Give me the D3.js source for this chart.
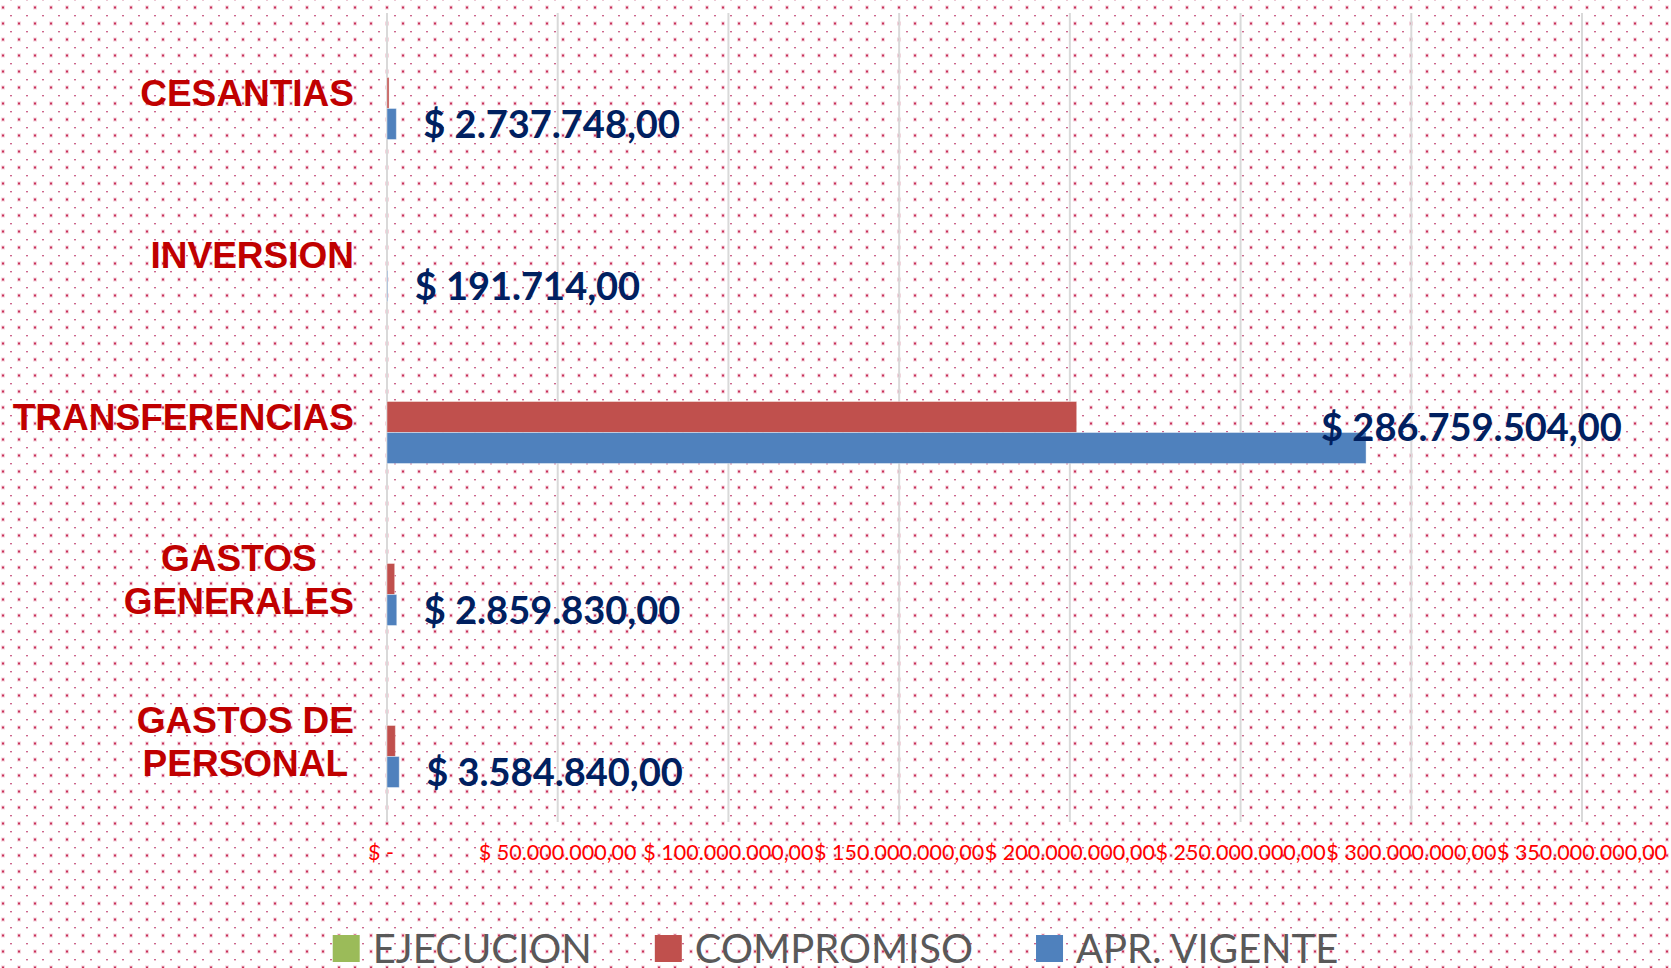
<!DOCTYPE html>
<html>
<head>
    <meta charset="utf-8">
    <title>Ejecucion presupuestal</title>
    <script src="https://cdn.jsdelivr.net/npm/d3@7"></script>
    <style>
        body { margin: 0; background: #fff; }
    </style>
</head>

<body>
    <svg width="1671" height="968" id="mainsvg"></svg>
    <script>
        // datos
        const categories = ['CESANTIAS', 'INVERSION', 'TRANSFERENCIAS', 'GASTOS GENERALES', 'GASTOS DE PERSONAL'];
        const categoryLines = [['CESANTIAS'], ['INVERSION'], ['TRANSFERENCIAS'], ['GASTOS', 'GENERALES'], ['GASTOS DE', 'PERSONAL']];
        const seriesNames = ['EJECUCION', 'COMPROMISO', 'APR. VIGENTE'];
        const ejecucion = [0, 0, 0, 0, 0];
        const compromiso = [600000, 0, 202000000, 2250000, 2450000];
        const aprVigente = [2737748, 191714, 286759504, 2859830, 3584840];
        const tickValues = [0, 50000000, 100000000, 150000000, 200000000, 250000000, 300000000, 350000000];

        const svg = d3.select('svg');
        const width = +svg.attr('width');
        const height = +svg.attr('height');

        const colors = ['#9bbb59', '#c0504d', '#4f81bd'];
        const series = [ejecucion, compromiso, aprVigente];

        const es = d3.formatLocale({decimal: ',', thousands: '.', grouping: [3], currency: ['$ ', '']});
        const money = es.format('$,.2f');

        // fondo punteado
        const defs = svg.append('defs');
        const pat = defs.append('pattern')
            .attr('id', 'dots').attr('patternUnits', 'userSpaceOnUse')
            .attr('width', 16).attr('height', 16);
        pat.append('rect').attr('width', 16).attr('height', 16).attr('fill', '#fff');
        pat.append('rect').attr('x', 1).attr('y', 5.5).attr('width', 4).attr('height', 4).attr('fill', '#e8a0b4').attr('opacity', 0.45);
        pat.append('rect').attr('x', 2).attr('y', 6.5).attr('width', 2).attr('height', 2).attr('fill', '#c8305a');
        pat.append('rect').attr('x', 10).attr('y', 15).attr('width', 2).attr('height', 1).attr('fill', '#c04070').attr('opacity', 0.8);
        pat.append('rect').attr('x', 10).attr('y', 0).attr('width', 2).attr('height', 1).attr('fill', '#d890a8').attr('opacity', 0.5);
        svg.append('rect').attr('width', width).attr('height', height).attr('fill', 'url(#dots)');

        const x = d3.scaleLinear().domain([0, 350000000]).range([387, 1582]);
        const y = d3.scaleBand().domain(categories).range([12, 822]).paddingInner(0.426).paddingOuter(0.213);
        const ySub = d3.scaleBand().domain(seriesNames).range([0, y.bandwidth()]);

        // lineas de cuadricula
        svg.append('g').selectAll('line').data(tickValues).join('line')
            .attr('x1', d => x(d)).attr('x2', d => x(d))
            .attr('y1', 13).attr('y2', 822)
            .attr('stroke', '#d9d9d9').attr('stroke-width', 2);

        // etiquetas del eje x
        svg.append('g').selectAll('text').data(tickValues).join('text')
            .attr('x', d => x(d) - (d === 0 ? 6 : 0))
            .attr('y', 860)
            .attr('text-anchor', 'middle')
            .attr('fill', '#ff0000')
            .style('font-family', 'Lato, sans-serif')
            .style('font-size', '21.5px')
            .text(d => d === 0 ? '$ -' : money(d));

        // barras
        const groups = svg.append('g').selectAll('g').data(categories).join('g')
            .attr('transform', d => `translate(0,${y(d)})`);
        groups.selectAll('rect')
            .data((c, i) => seriesNames.map((s, j) => ({s: s, v: series[j][i], j: j})))
            .join('rect')
            .attr('x', x(0))
            .attr('y', d => ySub(d.s))
            .attr('width', d => Math.max(0, x(d.v) - x(0)))
            .attr('height', ySub.bandwidth())
            .attr('fill', d => colors[d.j])
            .attr('stroke', d => d.v > 0 ? 'rgba(255,255,255,0.4)' : 'none')
            .attr('stroke-width', 1);

        // etiquetas de datos (APR. VIGENTE)
        const labelNudge = {'TRANSFERENCIAS': [-72, -21]};
        svg.append('g').selectAll('text').data(categories).join('text')
            .attr('x', (c, i) => x(aprVigente[i]) + 27 + (labelNudge[c] ? labelNudge[c][0] : 0))
            .attr('y', (c, i) => y(c) + ySub('APR. VIGENTE') + ySub.bandwidth() / 2 + 14 + (labelNudge[c] ? labelNudge[c][1] : 0))
            .attr('fill', '#002060')
            .style('font-family', 'Lato, sans-serif')
            .style('font-weight', 'bold')
            .style('font-size', '38px')
            .text((c, i) => money(aprVigente[i]));

        // etiquetas de categorias
        const catG = svg.append('g').selectAll('g').data(categories).join('g')
            .attr('transform', d => `translate(0,${y(d) + y.bandwidth() / 2})`);
        catG.each(function(c, i) {
            const g = d3.select(this);
            const lines = categoryLines[i];
            const texts = g.selectAll('text').data(lines).join('text')
                .attr('y', (l, k) => (k - (lines.length - 1) / 2) * 43 + 13)
                .attr('text-anchor', 'middle')
                .attr('fill', '#c00000')
                .style('font-family', '"Liberation Sans", Arial, sans-serif')
                .style('font-weight', 'bold')
                .style('font-size', '37px')
                .text(l => l);
            let maxW = 0;
            texts.each(function() { maxW = Math.max(maxW, this.getComputedTextLength()); });
            texts.attr('x', 354 - maxW / 2);
        });

        // leyenda
        const legend = svg.append('g');
        const items = legend.selectAll('g').data(seriesNames).join('g');
        items.append('rect').attr('width', 27).attr('height', 27).attr('y', 935).attr('fill', (d, i) => colors[i]);
        items.append('text').attr('x', 40).attr('y', 963)
            .attr('fill', '#595959')
            .style('font-family', 'Lato, sans-serif')
            .style('font-size', '40px')
            .text(d => d);
        let offs = [];
        let cur = 0;
        items.each(function() {
            offs.push(cur);
            cur += 40 + d3.select(this).select('text').node().getComputedTextLength() + 63;
        });
        const total = cur - 63;
        const start = width / 2 - total / 2;
        items.attr('transform', (d, i) => `translate(${start + offs[i]},0)`);
    </script>
</body>
</html>
